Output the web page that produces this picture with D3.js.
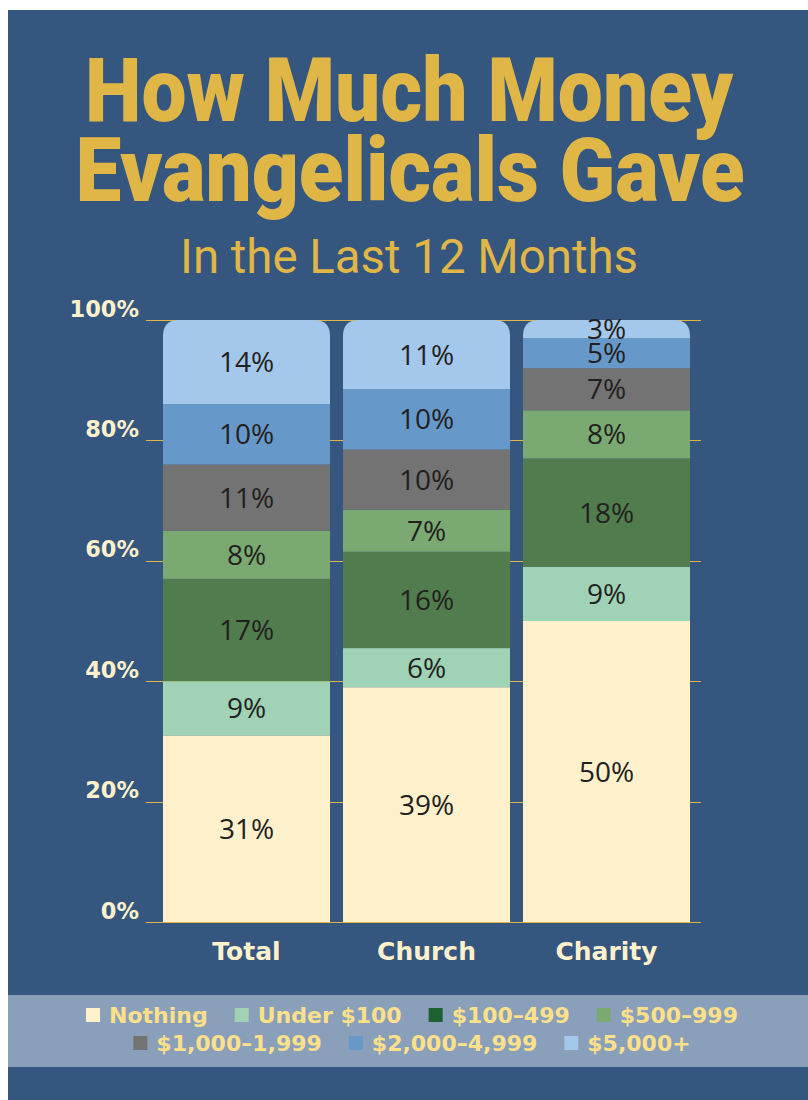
<!DOCTYPE html>
<html><head><meta charset="utf-8">
<script src="https://cdn.jsdelivr.net/npm/d3@7"></script>
<style>html,body{margin:0;padding:0;background:#fff;}svg{display:block;}</style>
</head><body>
<script>
const categories = ["Total", "Church", "Charity"];
const seriesNames = ["Nothing", "Under $100", "$100–499", "$500–999", "$1,000–1,999", "$2,000–4,999", "$5,000+"];
const totalValues = [31, 9, 17, 8, 11, 10, 14];
const churchValues = [39, 6.5, 16, 7, 10, 10, 11.5];
const charityValues = [50, 9, 18, 8, 7, 5, 3];
const totalLabels = ["31%", "9%", "17%", "8%", "11%", "10%", "14%"];
const churchLabels = ["39%", "6%", "16%", "7%", "10%", "10%", "11%"];
const charityLabels = ["50%", "9%", "18%", "8%", "7%", "5%", "3%"];
const yTicks = [0, 20, 40, 60, 80, 100];
const barColors = ["#fff1cc", "#a0d3b5", "#517c4d", "#7aaa72", "#737373", "#6699c9", "#a3c8ec"];
const legendColors = ["#fff1cc", "#a0d3b5", "#1e6131", "#7aaa72", "#737373", "#6699c9", "#a3c8ec"];

const W = 808, H = 1100;
const svg = d3.select("body").append("svg").attr("width", W).attr("height", H);
svg.append("rect").attr("x", 8).attr("y", 10).attr("width", W - 8).attr("height", H - 10).attr("fill", "#34567f");

// Titles
const gold = "#e0b646";
svg.append("text").attr("x", 409).attr("y", 121).attr("text-anchor", "middle")
  .attr("font-family", "Roboto, 'Liberation Sans', sans-serif").attr("font-weight", 900)
  .attr("font-size", 89).attr("fill", gold).attr("textLength", 648).attr("lengthAdjust", "spacingAndGlyphs")
  .text("How Much Money");
svg.append("text").attr("x", 410).attr("y", 201).attr("text-anchor", "middle")
  .attr("font-family", "Roboto, 'Liberation Sans', sans-serif").attr("font-weight", 900)
  .attr("font-size", 89).attr("fill", gold).attr("textLength", 669).attr("lengthAdjust", "spacingAndGlyphs")
  .text("Evangelicals Gave");
svg.append("text").attr("x", 409).attr("y", 273).attr("text-anchor", "middle")
  .attr("font-family", "Roboto, 'Liberation Sans', sans-serif").attr("font-weight", 400)
  .attr("font-size", 48).attr("fill", gold).attr("textLength", 458).attr("lengthAdjust", "spacingAndGlyphs")
  .text("In the Last 12 Months");

// Scales
const y = d3.scaleLinear().domain([0, 100]).range([922, 320]);
const x = d3.scaleBand().domain(categories).range([163, 690]).paddingInner(0.072).paddingOuter(0);

const cream = "#fff1cc";
// gridlines
const grid = svg.append("g");
grid.selectAll("line").data(yTicks).join("line")
  .attr("x1", 146).attr("x2", 701)
  .attr("y1", d => Math.round(y(d)) + 0.5).attr("y2", d => Math.round(y(d)) + 0.5)
  .attr("stroke", gold).attr("stroke-width", 1);

// y axis labels
const yAxis = d3.axisLeft(y).tickValues(yTicks).tickFormat(d => d + "%").tickSize(0).tickPadding(0);
const ya = svg.append("g").attr("transform", "translate(139,0)").call(yAxis);
ya.select(".domain").remove();
ya.selectAll("text").attr("fill", cream).attr("font-family", "'DejaVu Sans', sans-serif")
  .attr("font-weight", "bold").attr("font-size", 22.5).attr("dy", "0").attr("y", -4);

// stacked data
const valuesByCat = [totalValues, churchValues, charityValues];
const labelsByCat = [totalLabels, churchLabels, charityLabels];
const rows = categories.map((c, i) => {
  const o = {cat: c};
  seriesNames.forEach((s, j) => o[s] = valuesByCat[i][j]);
  return o;
});
const stack = d3.stack().keys(seriesNames)(rows);

const defs = svg.append("defs");
const r = 16;
categories.forEach((c, i) => {
  const x0 = x(c), bw = x.bandwidth(), top = y(100), bot = y(0);
  defs.append("clipPath").attr("id", "clip" + i).append("path")
    .attr("d", `M${x0},${bot} V${top + r} Q${x0},${top} ${x0 + r},${top} H${x0 + bw - r} Q${x0 + bw},${top} ${x0 + bw},${top + r} V${bot} Z`);
});

const barsG = svg.append("g");
stack.forEach((layer, j) => {
  layer.forEach((d, i) => {
    barsG.append("rect").attr("clip-path", `url(#clip${i})`)
      .attr("x", x(categories[i])).attr("width", x.bandwidth())
      .attr("y", y(d[1])).attr("height", y(d[0]) - y(d[1]))
      .attr("fill", barColors[j]);
  });
});
// segment labels
stack.forEach((layer, j) => {
  layer.forEach((d, i) => {
    barsG.append("text")
      .attr("x", x(categories[i]) + x.bandwidth() / 2)
      .attr("y", (y(d[0]) + y(d[1])) / 2)
      .attr("dy", "0.36em").attr("text-anchor", "middle")
      .attr("font-family", "'Open Sans', sans-serif").attr("font-size", 28)
      .attr("fill", "#231f20").text(labelsByCat[i][j]);
  });
});

// x axis labels
const xAxis = d3.axisBottom(x).tickSize(0).tickPadding(0);
const xa = svg.append("g").attr("transform", "translate(0,960)").call(xAxis);
xa.select(".domain").remove();
xa.selectAll("text").attr("fill", cream).attr("font-family", "'DejaVu Sans', sans-serif")
  .attr("font-weight", "bold").attr("font-size", 25).attr("dy", 0);

// legend
svg.append("rect").attr("x", 8).attr("y", 995).attr("width", W - 8).attr("height", 72).attr("fill", "#8a9fba");
const legendRows = [[0, 1, 2, 3], [4, 5, 6]];
const rowY = [1023, 1051];
const gap = 27;
legendRows.forEach((idxs, ri) => {
  const g = svg.append("g");
  let cx = 0;
  idxs.forEach((k, n) => {
    const it = g.append("g").attr("transform", `translate(${cx},0)`);
    it.append("rect").attr("x", 0).attr("y", -15).attr("width", 14).attr("height", 14).attr("fill", legendColors[k]);
    const t = it.append("text").attr("x", 23).attr("y", 0)
      .attr("font-family", "'DejaVu Sans', sans-serif").attr("font-weight", "bold")
      .attr("font-size", 22).attr("fill", "#fde08a").text(seriesNames[k]);
    cx += 23 + t.node().getComputedTextLength() + gap;
  });
  const total = cx - gap;
  g.attr("transform", `translate(${412 - total / 2},${rowY[ri]})`);
});
</script>
</body></html>
